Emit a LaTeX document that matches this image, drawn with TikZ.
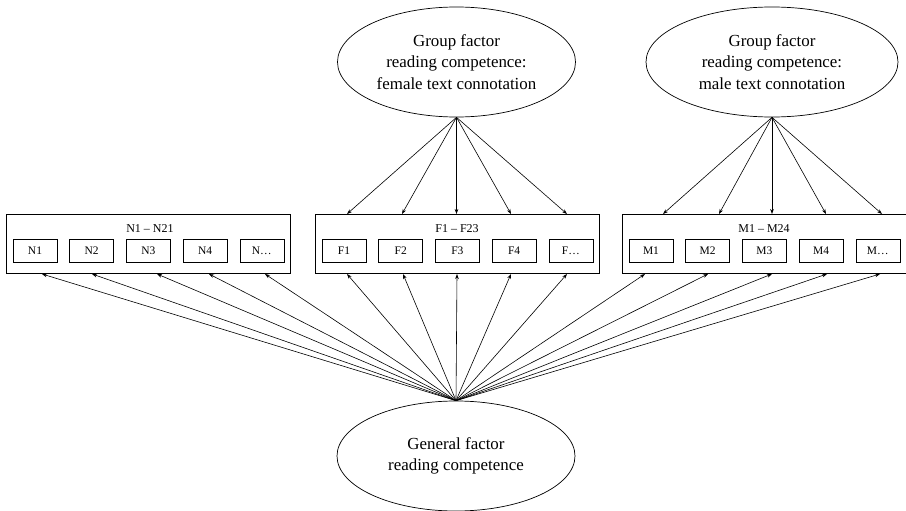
\documentclass[tikz,border=0pt]{standalone}
\usepackage{fontspec}
\setmainfont{Liberation Serif}
\usetikzlibrary{shapes.geometric,arrows.meta}
\tikzset{
  factor/.style={draw, ellipse, minimum width=238pt, minimum height=110pt, inner sep=0pt, align=center, font=\fontsize{16.9}{21.5}\selectfont, line width=0.7pt},
  outerbox/.style={draw, minimum width=284pt, minimum height=59pt, inner sep=0pt, line width=0.7pt},
  itembox/.style={draw, minimum width=44pt, minimum height=23pt, inner sep=0pt, font=\fontsize{11.5}{13}\selectfont, line width=0.6pt},
  boxtitle/.style={font=\fontsize{12}{14}\selectfont, inner sep=0pt},
  load/.style={-{Stealth[length=5pt,width=3.6pt]}, line width=0.6pt}
}
\begin{document}
\begin{tikzpicture}[x=1pt,y=-1pt]
\useasboundingbox (0,0) rectangle (906,511);
% ellipses
\node[factor] (gf) at (456.5,62) {Group factor\\reading competence:\\female text connotation};
\node[factor, minimum width=252pt] (gm) at (772,62) {Group factor\\reading competence:\\male text connotation};
\node[factor] (gen) at (456,456) {General factor\\reading competence};
% outer boxes
\node[outerbox] (bn) at (148,244) {};
\node[outerbox] (bf) at (457,244) {};
\node[outerbox] (bm) at (764,244) {};
\node[boxtitle] (tn) at (150,229) {N1 -- N21};
\node[boxtitle] (tf) at (457,229) {F1 -- F23};
\node[boxtitle] (tm) at (764,229) {M1 -- M24};
% item boxes
\foreach \i/\lab in {0/1,1/2,2/3,3/4,4/{\dots}} {
  \node[itembox] (n\i) at (35+56.7*\i,250.5) {N\lab};
  \node[itembox] (f\i) at (344+56.7*\i,250.5) {F\lab};
  \node[itembox] (m\i) at (651+56.7*\i,250.5) {M\lab};
}
% arrow end points
\foreach \k/\x in {1/42,2/92,3/157,4/209,5/265}{\coordinate (nb\k) at (\x,274);}
\foreach \k/\x in {1/347,2/403,3/457,4/511,5/567}{\coordinate (fb\k) at (\x,274);}
\foreach \k/\x in {1/645,2/708,3/772,4/827,5/880}{\coordinate (mb\k) at (\x,274);}
\foreach \k/\x in {1/347,2/402,3/456.5,4/511,5/567}{\coordinate (ft\k) at (\x,214);}
\foreach \k/\x in {1/663,2/719,3/772,4/826,5/882}{\coordinate (mt\k) at (\x,214);}
% loadings
\foreach \k in {1,...,5}{
  \draw[load] (gf.south) -- (ft\k);
  \draw[load] (gm.south) -- (mt\k);
  \draw[load] (gen.north) -- (nb\k);
  \draw[load] (gen.north) -- (fb\k);
  \draw[load] (gen.north) -- (mb\k);
}
\end{tikzpicture}
\end{document}
